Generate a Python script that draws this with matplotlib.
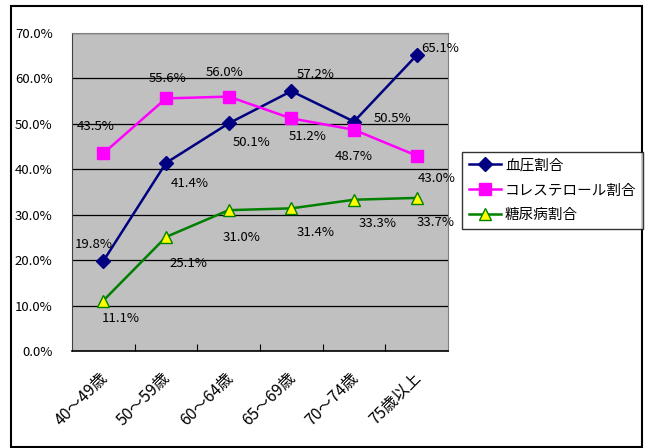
import matplotlib.pyplot as plt
from matplotlib.patches import Rectangle
import matplotlib.transforms as mtransforms

plt.rcParams['font.family'] = ['Noto Sans CJK JP', 'DejaVu Sans']

categories = ['40〜49歳', '50〜59歳', '60〜64歳', '65〜69歳', '70〜74歳', '75歳以上']
blood_pressure = [19.8, 41.4, 50.1, 57.2, 50.5, 65.1]
cholesterol = [43.5, 55.6, 56.0, 51.2, 48.7, 43.0]
diabetes = [11.1, 25.1, 31.0, 31.4, 33.3, 33.7]
series_names = ['血圧割合', 'コレステロール割合', '糖尿病割合']

# label offsets in pixels (dx, dy)
bp_off = [(-10, 17), (24, -21), (23, -19), (24, 17), (38, 3), (24, 7)]
ch_off = [(-8, 27), (2, 20), (-4, 24), (16, -18), (0, -27), (20, -23)]
db_off = [(17, -18), (22, -27), (13, -27), (24, -24), (24, -24), (19, -25)]

fig = plt.figure(figsize=(6.49, 4.48), dpi=100)
ax = fig.add_axes([72 / 649, 1 - 351 / 448, 376 / 649, 318 / 448])
ax.set_facecolor('#C0C0C0')

x = range(len(categories))
ax.plot(x, blood_pressure, color='#000080', lw=1.8, marker='D', ms=7.5,
        mfc='#000080', mec='#000080', label=series_names[0], zorder=3)
ax.plot(x, cholesterol, color='#FF00FF', lw=1.8, marker='s', ms=8,
        mfc='#FF00FF', mec='#FF00FF', label=series_names[1], zorder=3)
ax.plot(x, diabetes, color='#008000', lw=1.8, marker='^', ms=8.5,
        mfc='#FFFF00', mec='#008000', label=series_names[2], zorder=3)

for vals, offs in [(blood_pressure, bp_off), (cholesterol, ch_off), (diabetes, db_off)]:
    for i, (v, o) in enumerate(zip(vals, offs)):
        ax.annotate(f'{v:.1f}%', (i, v), xytext=o, textcoords='offset pixels',
                    ha='center', va='center', fontsize=9.5, zorder=4)

ax.set_xlim(-0.5, len(categories) - 0.5)
ax.set_ylim(0, 70)
ax.set_yticks(range(0, 71, 10))
ax.set_yticklabels([f'{v:.1f}%' for v in range(0, 71, 10)], fontsize=9.5)
ax.yaxis.grid(True, color='black', lw=0.9)
ax.set_axisbelow(True)
ax.tick_params(axis='y', length=0, pad=14)

ax.set_xticks([i + 0.5 for i in range(len(categories) - 1)], minor=False)
ax.set_xticklabels([])
ax.tick_params(axis='x', which='major', direction='in', length=5, color='black')
ax.set_xticks(list(x), minor=True)
ax.set_xticklabels(categories, minor=True, rotation=45, ha='right',
                   rotation_mode='anchor', fontsize=11.5)
ax.tick_params(axis='x', which='minor', length=0, pad=13)
shift = mtransforms.ScaledTranslation(-4 / 100, 0, fig.dpi_scale_trans)
for lbl in ax.get_xticklabels(minor=True):
    lbl.set_transform(lbl.get_transform() + shift)

for s in ['top', 'right']:
    ax.spines[s].set_color('#808080')
ax.spines['left'].set_color('#404040')
ax.spines['bottom'].set_color('black')
ax.spines['bottom'].set_linewidth(1.2)

leg = fig.legend(loc='upper left', bbox_to_anchor=(462 / 649, 1 - 152 / 448),
                 fontsize=10.5, frameon=True, fancybox=False, edgecolor='black',
                 borderpad=0.45, labelspacing=0.75, handlelength=2.2, handletextpad=0.3,
                 borderaxespad=0)
leg.get_frame().set_linewidth(1.0)

fig.patches.append(Rectangle((11 / 649, 1 - 447 / 448), 631 / 649, 441 / 448,
                             transform=fig.transFigure, fill=False,
                             edgecolor='black', lw=1.5))

fig.savefig('out.png', dpi=100)
